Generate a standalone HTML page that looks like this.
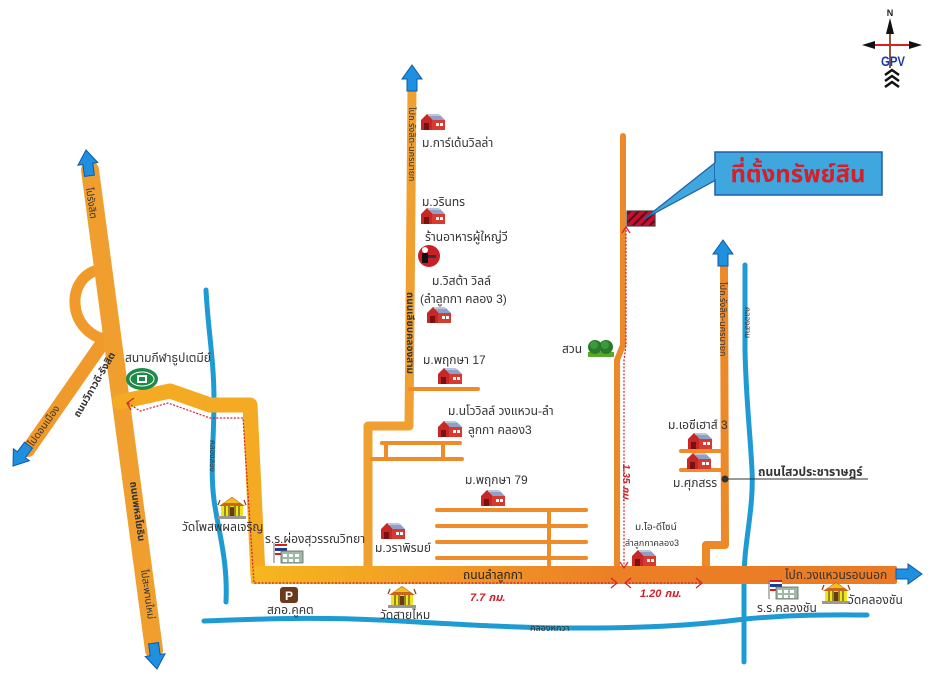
<!DOCTYPE html>
<html><head><meta charset="utf-8"><style>
html,body{margin:0;padding:0;background:#fff;}
svg{display:block;}
text{font-family:"Liberation Sans","Noto Sans Thai","Garuda","Loma","DejaVu Sans",sans-serif;fill:#333;}
.s{font-size:12px;}
.xs{font-size:10px;}
.red{fill:#d0202a;font-weight:bold;font-style:italic;font-size:11px;}
</style></head><body>
<svg width="932" height="674" viewBox="0 0 932 674" xmlns="http://www.w3.org/2000/svg">
<defs>
<linearGradient id="mainG" x1="250" y1="0" x2="900" y2="0" gradientUnits="userSpaceOnUse">
<stop offset="0" stop-color="#f6b71e"/><stop offset="0.3" stop-color="#f19a26"/><stop offset="0.55" stop-color="#ec8026"/><stop offset="1" stop-color="#ea7a24"/>
</linearGradient>
<pattern id="hatch" width="6" height="6" patternUnits="userSpaceOnUse" patternTransform="rotate(45)">
<rect width="6" height="6" fill="#c8102e"/><rect width="2" height="6" fill="#5a0a14"/>
</pattern>
<g id="house">
<polygon points="0,6 6,0 12,6 12,16 0,16" fill="#c62828"/>
<rect x="11" y="6" width="13" height="10" fill="#d83a30"/>
<polygon points="6,0 18,0 24,6 12,6" fill="#8ea0c8"/>
<line x1="7" y1="1" x2="19" y2="1" stroke="#fff" stroke-width="0.8"/>
<rect x="3" y="9" width="5" height="7" fill="#7a1010"/>
<rect x="15" y="9" width="3" height="3" fill="#fff"/><rect x="19" y="9" width="3" height="3" fill="#fff"/>
</g>
<g id="temple">
<rect x="0" y="20" width="28" height="3" fill="#999"/>
<rect x="3" y="9" width="22" height="11" fill="#f2e21a"/>
<line x1="7" y1="9" x2="7" y2="20" stroke="#333" stroke-width="1"/>
<line x1="11" y1="9" x2="11" y2="20" stroke="#333" stroke-width="1"/>
<line x1="17" y1="9" x2="17" y2="20" stroke="#333" stroke-width="1"/>
<line x1="21" y1="9" x2="21" y2="20" stroke="#333" stroke-width="1"/>
<rect x="12" y="11" width="4" height="9" fill="#6a3a10"/>
<polygon points="1,10 14,1 27,10" fill="#c8661a"/>
<polygon points="6,7 14,2 22,7" fill="#f2c21a"/>
<line x1="0" y1="9" x2="2" y2="4" stroke="#8a3a10" stroke-width="1.2"/>
<line x1="28" y1="9" x2="26" y2="4" stroke="#8a3a10" stroke-width="1.2"/>
</g>
<g id="school">
<line x1="1" y1="0" x2="1" y2="20" stroke="#888" stroke-width="1.2"/>
<rect x="2" y="1" width="12" height="2" fill="#d02020"/><rect x="2" y="3" width="12" height="2" fill="#fff"/>
<rect x="2" y="5" width="12" height="3" fill="#203a90"/><rect x="2" y="8" width="12" height="2" fill="#fff"/><rect x="2" y="10" width="12" height="2" fill="#d02020"/>
<rect x="8" y="8" width="22" height="12" fill="#9fb8a8" stroke="#5a6a60" stroke-width="0.8"/>
<rect x="10" y="11" width="4" height="3" fill="#fff"/><rect x="16" y="11" width="4" height="3" fill="#fff"/><rect x="22" y="11" width="4" height="3" fill="#fff"/>
<rect x="10" y="16" width="4" height="3" fill="#fff"/><rect x="16" y="16" width="4" height="3" fill="#fff"/><rect x="22" y="16" width="4" height="3" fill="#fff"/>
</g>
<path id="barrow" d="M0,0 L10,14 L5,14 L5,26 L-5,26 L-5,14 L-10,14 Z" fill="#1f8fe0" stroke="#0d5aa8" stroke-width="1"/>
</defs>

<!-- canals -->
<g fill="none" stroke="#1e9bd2" stroke-width="5" stroke-linecap="round">
<path d="M206,290 C208,330 214,360 214,400 C214,440 210,470 214,500 C218,530 228,560 226,602"/>
<path d="M204,621 C280,618 330,617 400,621 C470,625 520,628 580,628 C640,628 690,626 745,619 C800,614 840,615 867,615"/>
<path d="M745,265 L745,350 C746,400 750,430 752,470 C754,510 744,540 744,580 L744,662"/>
</g>

<!-- left highway -->
<g stroke-linecap="round" fill="none">
<path d="M98,270 C66,278 66,330 106,340" stroke="#ef9a2a" stroke-width="11"/>
<line x1="106" y1="338" x2="28" y2="450" stroke="#ef9a2a" stroke-width="14"/>
<line x1="90" y1="170" x2="154" y2="650" stroke="#f09f2e" stroke-width="18"/>
<!-- branch road -->
<path d="M120,402 L170,391 L210,405 L250,405 L258,576" stroke="#f4aa22" stroke-width="15" stroke-linejoin="round"/>
<!-- middle road -->
<path d="M412,88 L409,426 L368,426 L368,572" stroke="#f0a030" stroke-width="9" stroke-linejoin="round"/>
<!-- side streets -->
<g stroke="#ee8c2a" stroke-width="4">
<line x1="410" y1="389" x2="478" y2="389"/>
<line x1="382" y1="443" x2="460" y2="443"/>
<line x1="372" y1="459" x2="462" y2="459"/>
<line x1="386" y1="443" x2="386" y2="459"/>
<line x1="443" y1="443" x2="443" y2="459"/>
<line x1="437" y1="510" x2="586" y2="510"/>
<line x1="437" y1="526" x2="586" y2="526"/>
<line x1="437" y1="542" x2="586" y2="542"/>
<line x1="437" y1="558" x2="586" y2="558"/>
<line x1="549" y1="510" x2="549" y2="568"/>
<line x1="681" y1="451" x2="722" y2="451"/>
<line x1="681" y1="470" x2="722" y2="470"/>
</g>
<!-- property road -->
<path d="M623,136 L623,345 L617,360 L617,570" stroke="#ec8a2a" stroke-width="6" stroke-linejoin="round"/>
<!-- right road -->
<path d="M724,266 L725,545 L706,545 L706,570" stroke="#ec8a2a" stroke-width="8" stroke-linejoin="round"/>
</g>
<!-- main road -->
<rect x="251" y="566" width="646" height="18" rx="2" fill="url(#mainG)"/>

<!-- blue arrows -->
<use href="#barrow" transform="translate(86,150) rotate(-7.6)"/>
<use href="#barrow" transform="translate(157,669) rotate(172.4)"/>
<use href="#barrow" transform="translate(13,466) rotate(-143.3)"/>
<use href="#barrow" transform="translate(412,65)"/>
<use href="#barrow" transform="translate(723,240)"/>
<use href="#barrow" transform="translate(922,574) rotate(90)"/>

<!-- red dotted route -->
<g fill="none" stroke="#d8202a" stroke-width="1.2">
<path d="M128,403 L140,411 L168,403 L210,418 L243,418 L254,583 L616,583" stroke-dasharray="2,1.5"/>
<path d="M134,398 L127,403 L131,410"/>
<line x1="625" y1="583" x2="700" y2="583" stroke-dasharray="2,1.5"/>
<path d="M611,578 L617,583 L611,588"/>
<path d="M631,578 L625,583 L631,588"/>
<path d="M696,578 L702,583 L696,588"/>
<path d="M626,230 L626,345 L624,360 L624,566" stroke-dasharray="2,1.5"/>
<path d="M622,233 L626,227 L630,233"/>
<path d="M620,562 L624,568 L628,562"/>
</g>

<!-- property -->
<rect x="627" y="211" width="28" height="15" fill="url(#hatch)" stroke="#444" stroke-width="1.2"/>
<!-- callout -->
<polygon points="716,162 716,180 644,219" fill="#40a6de" stroke="#1e5fa8" stroke-width="1.2"/>
<rect x="715" y="152" width="167" height="43" fill="#40a6de" stroke="#1e5fa8" stroke-width="1.5"/>
<line x1="716" y1="163" x2="716" y2="179" stroke="#40a6de" stroke-width="2"/>
<text x="798" y="182" text-anchor="middle" style="font-size:24px;font-weight:bold;fill:#d4202a">ที่ตั้งทรัพย์สิน</text>

<!-- compass -->
<g>
<text x="890" y="16" text-anchor="middle" style="font-size:9px;font-weight:bold;fill:#222">N</text>
<line x1="890" y1="28" x2="890" y2="68" stroke="#8a5a3a" stroke-width="2"/>
<polygon points="886,34 890,18 894,34" fill="#111"/>
<line x1="870" y1="45" x2="910" y2="45" stroke="#d82020" stroke-width="2"/>
<polygon points="862,45 875,41 875,49" fill="#111"/>
<polygon points="922,45 909,41 909,49" fill="#111"/>
<text x="893" y="66" text-anchor="middle" textLength="24" lengthAdjust="spacingAndGlyphs" style="font-size:14px;font-weight:bold;fill:#1a3aa8">GPV</text>
<g fill="none" stroke="#111" stroke-width="2.5">
<polyline points="885,75 892,70 899,75"/>
<polyline points="885,81 892,76 899,81"/>
<polyline points="885,87 892,82 899,87"/>
</g>
</g>

<!-- icons -->
<use href="#house" x="421" y="114"/>
<use href="#house" x="421" y="208"/>
<use href="#house" x="427" y="307"/>
<use href="#house" x="438" y="368"/>
<use href="#house" x="438" y="421"/>
<use href="#house" x="481" y="490"/>
<use href="#house" x="381" y="523"/>
<use href="#house" x="632" y="550"/>
<use href="#house" x="688" y="433"/>
<use href="#house" x="687" y="453"/>
<g><circle cx="429" cy="256" r="11" fill="#c8202a"/><circle cx="425" cy="250" r="3" fill="#fff"/><rect x="422" y="253" width="6" height="10" fill="#111"/><rect x="428" y="255" width="8" height="3" fill="#333"/></g>
<g><ellipse cx="142" cy="379" rx="16" ry="11" fill="#1e8a4a"/><ellipse cx="142" cy="379" rx="12" ry="7" fill="none" stroke="#fff" stroke-width="1"/><rect x="137" y="375" width="10" height="8" fill="#fff"/><rect x="139" y="377" width="6" height="4" fill="#1e8a4a"/></g>
<g><rect x="588" y="352" width="26" height="5" fill="#5aa82a"/><circle cx="595" cy="347" r="7" fill="#2a7a2a"/><circle cx="606" cy="347" r="7" fill="#2a7a2a"/><circle cx="594" cy="345" r="4" fill="#3c9a3c"/><circle cx="605" cy="345" r="4" fill="#3c9a3c"/></g>
<use href="#temple" x="218" y="496"/>
<use href="#temple" x="388" y="585"/>
<use href="#temple" x="822" y="581"/>
<use href="#school" x="273" y="543"/>
<use href="#school" x="768" y="579"/>
<g><rect x="280" y="587" width="18" height="16" rx="3" fill="#6a3a1a"/><text x="289" y="600" text-anchor="middle" style="font-size:12px;font-weight:bold;fill:#fff">P</text></g>

<!-- labels -->
<text class="s" x="422" y="147">ม.การ์เด้นวิลล่า</text>
<text class="s" x="422" y="206">ม.วรินทร</text>
<text class="s" x="425" y="241">ร้านอาหารผู้ใหญ่วี</text>
<text class="s" x="432" y="285">ม.วิสต้า วิลล์</text>
<text class="s" x="420" y="303">(ลำลูกกา คลอง 3)</text>
<text class="s" x="423" y="364">ม.พฤกษา 17</text>
<text class="s" x="448" y="415">ม.นโววิลล์ วงแหวน-ลำ</text>
<text class="s" x="468" y="434">ลูกกา คลอง3</text>
<text class="s" x="465" y="484">ม.พฤกษา 79</text>
<text class="s" x="375" y="552">ม.วราพิรมย์</text>
<text x="463" y="579" style="font-size:12px;fill:#222">ถนนลำลูกกา</text>
<text class="red" x="470" y="601">7.7 กม.</text>
<text class="red" x="640" y="597">1.20 กม.</text>
<text class="s" x="380" y="619">วัดสายไหม</text>
<text class="s" x="267" y="614">สภอ.คูคต</text>
<text class="s" x="265" y="543">ร.ร.ผ่องสุวรรณวิทยา</text>
<text class="s" x="182" y="531">วัดโพสพผลเจริญ</text>
<text class="s" x="125" y="362">สนามกีฬาธูปเตมีย์</text>
<text class="s" x="562" y="353">สวน</text>
<text class="xs" x="635" y="530">ม.ไอ-ดีไซน์</text>
<text x="625" y="546" style="font-size:9px">ลำลูกกาคลอง3</text>
<text class="s" x="668" y="429">ม.เอซีเฮาส์ 3</text>
<text class="s" x="673" y="487">ม.ศุภสรร</text>
<circle cx="725" cy="479" r="3.5" fill="#333"/>
<line x1="725" y1="479" x2="868" y2="479" stroke="#333" stroke-width="1"/>
<text x="758" y="476" style="font-size:12px;font-weight:bold;fill:#333">ถนนไสวประชาราษฎร์</text>
<text class="s" x="785" y="579">ไปถ.วงแหวนรอบนอก</text>
<text class="s" x="757" y="612">ร.ร.คลองชัน</text>
<text class="s" x="848" y="604">วัดคลองชัน</text>
<text x="530" y="631" style="font-size:9px;fill:#333">คลองหกวา</text>

<!-- rotated labels -->
<text class="xs" transform="translate(86,188) rotate(82)">ไปรังสิต</text>
<text class="xs" transform="translate(130,482) rotate(82)" style="font-weight:bold">ถนนพหลโยธิน</text>
<text class="xs" transform="translate(141,570) rotate(82)">ไปสะพานใหม่</text>
<text class="xs" transform="translate(79,418) rotate(-60)" style="font-weight:bold">ถนนวิภาวดี-รังสิต</text>
<text class="xs" transform="translate(33,447) rotate(-55)">ไปดอนเมือง</text>
<text x="0" y="0" transform="translate(409,107) rotate(90)" style="font-size:9px">ไปถ.รังสิต-นครนายก</text>
<text x="0" y="0" transform="translate(407,292) rotate(90)" style="font-size:10px;font-weight:bold">ถนนเลียบคลองสาม</text>
<text x="0" y="0" transform="translate(210,440) rotate(90)" style="font-size:8px">คลองสอง</text>
<text x="0" y="0" transform="translate(720,282) rotate(90)" style="font-size:9px">ไปถ.รังสิต-นครนายก</text>
<text x="0" y="0" transform="translate(745,307) rotate(90)" style="font-size:8px">คลองสาม</text>
<text class="red" transform="translate(623,464) rotate(90)" style="font-size:10px">1.35 กม.</text>
</svg>
</body></html>
